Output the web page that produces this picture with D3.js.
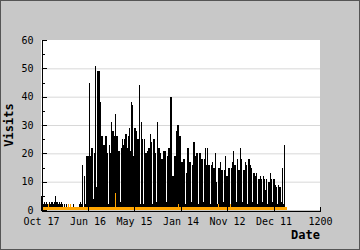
<!DOCTYPE html>
<html><head><meta charset="utf-8">
<script src="https://cdn.jsdelivr.net/npm/d3@7"></script>
<style>html,body{margin:0;padding:0;background:#c8c8c8;}svg{display:block;}</style>
</head><body>
<svg id="chart" width="360" height="250"></svg>
<script>
// Daily-ish samples (one per ~4.3 days)
const visits = [
5,3,2,3,2,3,2,2,3,2,3,3,2,3,5,3,3,2,3,2,3,2,1,2,1,2,1,2,1,2,1,1,2,1,1,0,1,0,2,3,2,16,
1,12,2,19,19,19,45,19,22,22,4,20,51,8,49,49,49,38,26,26,23,23,26,26,20,2,23,20,31,28,28,26,34,26,26,21,21,3,
22,25,23,25,27,27,22,26,29,21,38,37,19,29,29,28,25,25,44,2,31,25,2,25,20,20,21,22,22,27,24,2,25,25,20,3,
31,22,22,20,18,18,21,21,21,3,19,22,22,40,40,12,12,19,19,28,30,30,26,26,17,17,18,18,2,13,22,22,17,17,3,16,
24,24,19,20,20,2,20,20,18,18,3,18,22,16,22,16,16,2,16,17,15,15,20,10,2,15,15,17,14,14,3,14,19,12,12,15,15,2,
15,17,21,16,16,3,18,14,14,22,18,3,14,14,17,16,2,18,18,16,15,3,13,13,12,13,2,11,11,12,11,3,12,11,7,11,2,10,
10,13,11,3,11,11,9,8,2,9,8,8,3,15,2,23
];
const secondary = [
1,1,1,1,1,1,1,2,1,1,1,1,1,1,1,1,1,1,1,1,1,1,1,1,1,1,1,2,1,2,1,1,1,1,1,1,1,1,1,1,1,1,
1,1,1,1,1,1,1,1,1,1,1,1,1,1,1,1,1,1,1,1,1,1,1,1,1,1,1,1,1,1,1,1,6,1,1,1,1,1,
1,1,1,1,1,1,1,1,1,1,1,1,1,1,1,1,1,1,1,1,1,1,1,1,1,1,1,1,1,1,1,1,1,1,1,1,1,1,
1,1,1,1,1,1,1,1,1,1,1,1,1,1,1,1,1,1,1,2,1,1,1,1,1,1,1,1,1,1,1,1,1,1,1,1,1,1,
1,1,1,1,1,1,1,1,1,1,1,1,1,1,1,1,1,1,1,1,1,2,1,1,1,1,1,1,1,1,1,1,1,2,1,1,1,1,
1,1,1,1,1,1,1,1,1,1,1,1,1,1,1,1,1,1,1,1,1,1,1,1,1,1,1,1,1,1,1,1,1,1,1,1,1,1,
1,1,1,1,1,1,1,1,1,1,1,1,1,1
];
const xTickValues = [0,200,400,600,800,1000,1200];
const xTickLabels = ["Oct 17","Jun 16","May 15","Jan 14","Nov 12","Dec 11","1200"];
const yMajor = [0,10,20,30,40,50,60];
const yMinor = [5,15,25,35,45,55];
const dayStep = 1200/279;

const svg = d3.select("#chart");
const L=41,R=320,T=40,B=210;
const x = d3.scaleLinear().domain([0,1200]).range([L,R]);
const y = d3.scaleLinear().domain([0,60]).range([B,T]);
const mono = "'DejaVu Sans Mono', monospace";

svg.append("rect").attr("x",0).attr("y",0).attr("width",360).attr("height",250).attr("fill","#c8c8c8");
svg.append("rect").attr("x",L).attr("y",T).attr("width",R-L).attr("height",B-T).attr("fill","#fff");

// grid
svg.append("g").selectAll("line").data(yMajor.filter(v=>v>0&&v<60)).join("line")
  .attr("x1",L).attr("x2",R).attr("y1",d=>y(d)+0.5).attr("y2",d=>y(d)+0.5)
  .attr("stroke","#d8d8d8").attr("stroke-width",1);

const bw = x(dayStep)-x(0);
svg.append("g").attr("shape-rendering","crispEdges").selectAll("rect").data(visits).join("rect")
  .attr("x",(d,i)=>Math.round(x(i*dayStep))).attr("width",Math.max(1,Math.round(bw)))
  .attr("y",d=>y(d)).attr("height",d=>B-y(d)).attr("fill","#000");
svg.append("g").attr("shape-rendering","crispEdges").selectAll("rect").data(secondary).join("rect")
  .attr("x",(d,i)=>Math.round(x(i*dayStep))).attr("width",Math.max(1,Math.round(bw)))
  .attr("y",d=>y(d)).attr("height",d=>B-y(d)).attr("fill","#ffa500");

// axes
const yAx = svg.append("g").attr("transform",`translate(${L+0.5},0)`)
  .call(d3.axisLeft(y).tickValues(yMajor).tickSizeInner(-5).tickSizeOuter(0).tickPadding(8));
svg.append("g").attr("transform",`translate(${L+0.5},0)`)
  .call(d3.axisLeft(y).tickValues(yMinor).tickSizeInner(-3).tickSizeOuter(0).tickFormat(""))
  .select(".domain").remove();
const xAx = svg.append("g").attr("transform",`translate(0,${B+0.5})`)
  .call(d3.axisBottom(x).tickValues(xTickValues).tickSizeInner(-4).tickSizeOuter(0).tickPadding(7)
  .tickFormat((d,i)=>xTickLabels[i]));
svg.selectAll(".tick text").attr("font-family",mono).attr("font-size",10).attr("fill","#000");
svg.selectAll(".domain, .tick line").attr("stroke","#000").attr("shape-rendering","crispEdges");

svg.append("text").attr("transform","translate(13,125) rotate(-90)").attr("text-anchor","middle")
  .attr("font-family",mono).attr("font-weight","bold").attr("font-size",12).text("Visits");
svg.append("text").attr("x",320).attr("y",239).attr("text-anchor","end")
  .attr("font-family",mono).attr("font-weight","bold").attr("font-size",12).text("Date");

// outer frame
svg.append("rect").attr("x",0.5).attr("y",0.5).attr("width",359).attr("height",249)
  .attr("fill","none").attr("stroke","#555");
</script>
</body></html>
